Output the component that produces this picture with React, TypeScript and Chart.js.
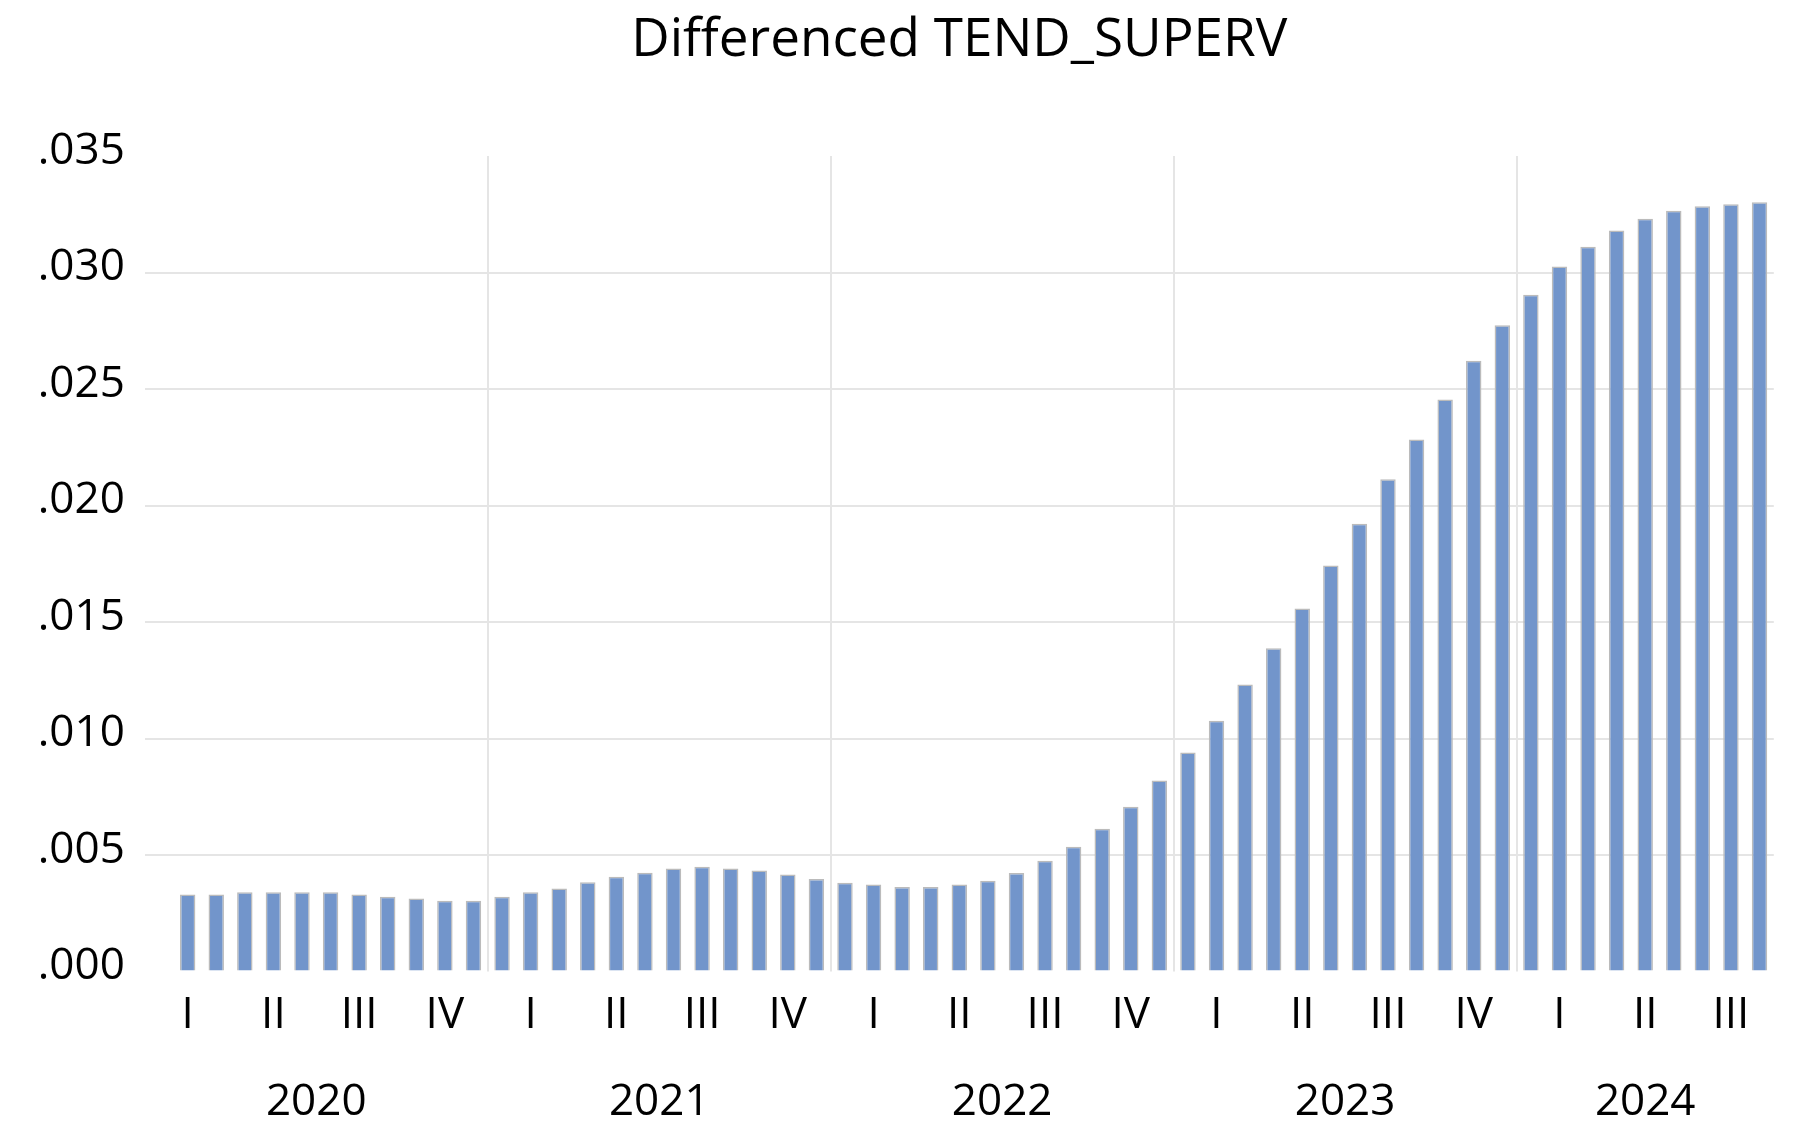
import { useEffect, useRef } from 'react';
import { Chart, registerables } from 'chart.js';

Chart.register(...registerables);

const chartTitle = 'Differenced TEND_SUPERV';
const years = [2020, 2021, 2022, 2023, 2024];
const quarterLabels = ['I', 'II', 'III', 'IV'];
// first observation is February 2020 (month index 1, January 2020 = 0)
const firstMonthIndex = 1;

const values2020 = [0.0033, 0.0033, 0.0034, 0.0034, 0.0034, 0.0034, 0.0033, 0.00321, 0.00313, 0.00304, 0.00304];
const values2021 = [0.00321, 0.0034, 0.00356, 0.00383, 0.00407, 0.00424, 0.00442, 0.0045, 0.00442, 0.00433, 0.00416, 0.00397];
const values2022 = [0.00381, 0.00373, 0.00363, 0.00363, 0.00373, 0.00389, 0.00423, 0.00475, 0.00535, 0.00613, 0.00707, 0.0082];
const values2023 = [0.0094, 0.01076, 0.01232, 0.01387, 0.01558, 0.01742, 0.01922, 0.02113, 0.02283, 0.02455, 0.02621, 0.02774];
const values2024 = [0.02905, 0.03026, 0.0311, 0.0318, 0.03231, 0.03265, 0.03284, 0.03293, 0.03301];

const yMin = 0;
const yMax = 0.035;
const yStep = 0.005;

const barFill = '#7295cb';
const barBorder = '#bbbbbb';
const gridColor = '#e5e5e5';
const fontFamily = '"Open Sans", sans-serif';

export default function App() {
  const canvasRef = useRef<HTMLCanvasElement | null>(null);

  useEffect(() => {
    if (!canvasRef.current) return;
    const allValues = [...values2020, ...values2021, ...values2022, ...values2023, ...values2024];
    const points = allValues.map((v, i) => ({ x: firstMonthIndex + i, y: v }));
    const lastIndex = firstMonthIndex + allValues.length - 1;

    const axisPlugin = {
      id: 'yearQuarterAxis',
      beforeDatasetsDraw(chart: any) {
        const { ctx, chartArea, scales } = chart;
        const x = scales.x;
        ctx.save();
        ctx.strokeStyle = gridColor;
        ctx.lineWidth = 2;
        years.slice(1).forEach((_, k) => {
          const px = Math.round(x.getPixelForValue((k + 1) * 12 - 0.5));
          ctx.beginPath();
          ctx.moveTo(px, chartArea.top);
          ctx.lineTo(px, chartArea.bottom);
          ctx.stroke();
        });
        ctx.restore();
      },
      afterDraw(chart: any) {
        const { ctx, chartArea, scales } = chart;
        const x = scales.x;
        ctx.save();
        ctx.fillStyle = '#000';
        ctx.font = `44px ${fontFamily}`;
        ctx.textAlign = 'center';
        ctx.textBaseline = 'alphabetic';
        years.forEach((yr, yi) => {
          quarterLabels.forEach((q, qi) => {
            const idx = yi * 12 + qi * 3 + 1;
            if (idx > lastIndex) return;
            ctx.fillText(q, x.getPixelForValue(idx), chartArea.bottom + 56);
          });
          const start = Math.max(yi * 12 - 0.5, x.min);
          const end = Math.min(yi * 12 + 11.5, x.max);
          ctx.fillText(String(yr), x.getPixelForValue((start + end) / 2), chartArea.bottom + 143.5);
        });
        ctx.restore();
      },
    };

    const chart = new Chart(canvasRef.current, {
      type: 'bar',
      data: {
        datasets: [
          {
            label: chartTitle,
            data: points as any,
            backgroundColor: barFill,
            borderColor: barBorder,
            borderWidth: 1.5,
            barPercentage: 0.54,
            categoryPercentage: 1,
          },
        ],
      },
      options: {
        animation: false,
        responsive: true,
        maintainAspectRatio: false,
        layout: { padding: { left: 0, right: 22.2, top: 0, bottom: 145.5 } },
        plugins: {
          legend: { display: false },
          tooltip: { enabled: false },
          title: {
            display: true,
            text: chartTitle,
            fullSize: false,
            color: '#000',
            font: { family: fontFamily, size: 53, weight: 'normal' },
            padding: { top: 1, bottom: 83.4 },
          },
        },
        scales: {
          x: {
            type: 'linear',
            min: -0.5,
            max: lastIndex + 0.5,
            offset: false,
            display: false,
          },
          y: {
            min: yMin,
            max: yMax,
            border: { display: false },
            grid: {
              drawTicks: false,
              lineWidth: 2,
              color: (c: any) => {
                const v = c.tick ? c.tick.value : null;
                if (v === null) return gridColor;
                if (Math.abs(v - yMin) < 1e-9 || Math.abs(v - yMax) < 1e-9) return 'rgba(0,0,0,0)';
                return gridColor;
              },
            },
            ticks: {
              stepSize: yStep,
              padding: 20,
              labelOffset: -5,
              color: '#000',
              font: { family: fontFamily, size: 44 },
              callback: (v: any) => Number(v).toFixed(3).replace(/^0/, ''),
            },
            afterFit: (s: any) => {
              s.width = 136.8;
            },
          },
        },
      },
      plugins: [axisPlugin],
    });

    return () => chart.destroy();
  }, []);

  return (
    <div style={{ width: '1788px', height: '1109px', position: 'relative' }}>
      <canvas ref={canvasRef} />
    </div>
  );
}
